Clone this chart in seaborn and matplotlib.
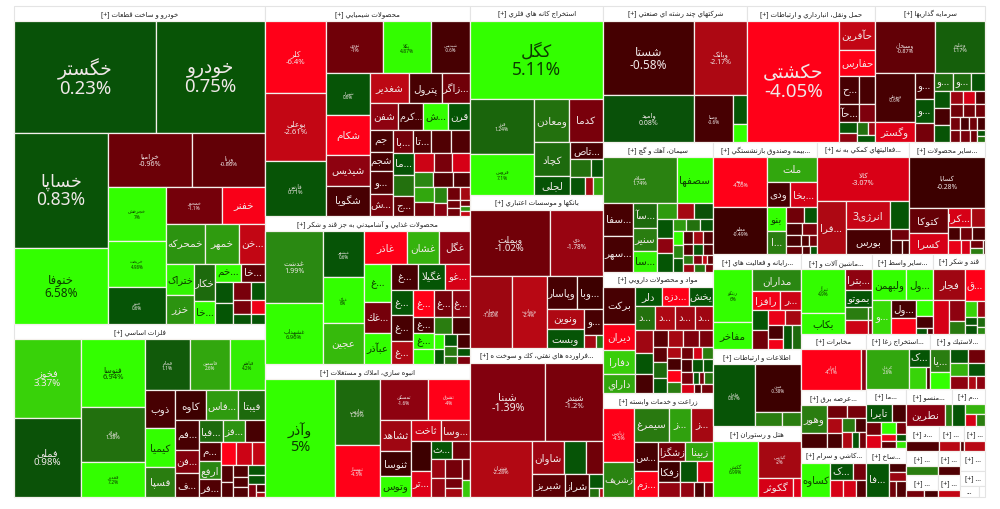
import matplotlib
matplotlib.use("Agg")
import matplotlib.pyplot as plt
import pandas as pd
import seaborn as sns

# Tiles are (market cap, percent change, ticker); splits are ['h' | 'v', children...].
auto_tiles = ['v',
    ['h', (15400, 0.23, 'خگستر'), (11880, 0.75, 'خودرو')],
    ['h',
        ['v', (10465, 0.83, 'خساپا'), (6916, 6.58, 'خنوفا')],
        ['v',
            ['h', (4420, -0.96, 'خرامیا'), (3800, -0.86, 'ورنا')],
            ['h',
                ['v', (3070, 7.0, 'خچرخش'), (2620, 4.98, 'خریخت'), (2120, 0.6, 'ختور')],
                ['v',
                    ['h', (2060, -1.1, 'خمحور'), (1560, -3.8, 'خفنر')],
                    ['h', (1482, 2.2, 'خمحرکه'), (1330, 2.4, 'خمهر'), (1000, -2.6, 'خن...')],
                    ['h',
                        ['v', (837, 4.5, 'ختراک'), (783, 2.2, 'خزر')],
                        ['v', (770, 1.3, 'خکار'), (483, 5.0, 'خا...')],
                        ['v',
                            ['h', (460, 5.0, 'خم...'), (414, -0.8, 'خا...')],
                            ['h',
                                ['v', (378, 0.4, None), (360, 0.5, None)],
                                ['v', (306, -1.2, None), (238, -1.2, None), (170, 0.6, None)],
                                ['v', (252, 0.5, None), (210, -3.5, None), (135, 0.6, None)]]]]]]]]]

metal_tiles = ['h',
    ['v', (5070, 3.37, 'فخوز'), (5070, 0.98, 'فملی')],
    ['v', (4200, 6.94, 'فنوسا'), (3400, 1.38, 'فولاد'), (2200, 7.2, 'فغدیر')],
    ['v',
        ['h', (2200, 1.1, 'فجام'), (1960, 2.6, 'فاسمین'), (1750, 4.2, 'فباهنر')],
        ['h',
            ['v', (1100, -0.6, 'ذوب'), (1100, 5.5, 'کیمیا'), (870, 1.6, 'فسپا')],
            ['v',
                ['h', (900, -0.5, 'کاوه'), (920, 2.4, 'فاس...'), (780, 1.3, 'فیبتا')],
                ['h',
                    ['v', (690, -0.6, 'فم...'), (550, -1.4, 'فن...'), (550, -0.7, 'ف...')],
                    ['v',
                        ['h', (500, 1.3, 'فبا...'), (480, 2.2, 'فز...'), (420, -0.6, None)],
                        ['h',
                            ['v', (380, -0.7, 'م...'), (380, 1.9, 'ارفع'), (360, -0.7, 'فر...')],
                            ['v',
                                ['h', (330, -4.5, None), (330, -2.8, None), (290, -2.6, None)],
                                ['h',
                                    ['v', (204, -0.7, None), (180, -0.7, None)],
                                    ['v', (180, -0.7, None), (150, -0.7, None), (150, -0.7, None)],
                                    ['v', (170, 0.4, None), (136, 0.4, None),
                                        ['h', (100, -1.3, None),
                                            ['v', (70, -0.6, None), (45, -2.0, None)]]]]]]]]]]]]

chem_fine = ['v',
    ['h', (380, -2.8, None), (340, -1.2, None), (340, -3.0, None)],
    ['h', (280, 1.9, None), (280, -0.7, None), (252, -0.7, None)],
    ['h',
        ['v', (285, 2.6, None), (266, -1.0, None)],
        ['v', (210, 1.8, None), (170, -1.5, None)],
        ['v', (156, -1.0, None), (100, -1.0, None), (100, -1.0, None)],
        ['v', (120, -2.0, None), (60, -1.0, None), (45, 2.2, None), (50, -2.6, None)]]]

chem_small = ['h',
    ['v', (504, -0.6, 'جم'), (437, -0.6, 'شجم'), (500, -0.7, 'و...'), (506, -1.1, 'ش...')],
    ['v',
        ['h', (440, -1.1, 'با...'), (420, -0.7, 'تا...'), (440, -0.7, None), (440, -0.7, None)],
        ['h',
            ['v', (440, 0.6, 'ما...'), (420, 1.4, None), (400, -0.8, 'ج...')],
            chem_fine]]]

chem_tiles = ['h',
    ['v', (4260, -6.4, 'کلر'), (4020, -2.61, 'بوعلی'), (3240, 0.71, 'فارس')],
    ['v',
        ['h', (2850, -1.0, 'نوری'), (2400, 4.87, 'پکلا'), (2000, -0.6, 'شپدیس')],
        ['h',
            ['v', (1722, 0.6, 'شیراز'), (1680, -4.2, 'شکام'), (1260, -1.6, 'شیدیس'), (1260, -0.6, 'شگویا')],
            ['v',
                ['h', (1110, -2.5, 'شغدیر'), (950, -0.6, 'پترول'), (810, -1.0, 'زاگر...')],
                ['h', (730, -1.6, 'شفن'), (650, -0.6, 'کرم...'), (625, 6.0, 'ش...'), (575, 0.5, 'قرن')],
                chem_small]]]]

food_fine = ['v',
    ['h', (304, 1.6, None), (304, -0.6, None)],
    ['h',
        ['v', (150, 6.0, None), (150, 0.5, None)],
        ['v', (156, 0.5, None), (132, 1.5, None), (96, 1.4, None)],
        ['v', (168, -0.6, None), (108, 0.5, None), (96, -1.3, None)]]]

food_tiles = ['h',
    ['v', (3990, 1.99, 'غدشت'), (3420, 6.96, 'غشهداب')],
    ['v', (1800, 0.6, 'غبشهر'), (1800, 6.0, 'غپاک'), (1600, 2.9, 'عجین')],
    ['v',
        ['h', (1376, -4.2, 'غاذر'), (992, 2.8, 'غشان'), (992, -1.6, 'غگل')],
        ['h',
            ['v', (1000, 5.2, 'غ...'), (810, -1.1, 'غك...'), (810, 5.6, 'عبآذر')],
            ['v',
                ['h', (675, -0.6, 'غ...'), (700, 0.5, 'غگیلا'), (625, -3.0, 'غو...')],
                ['h',
                    ['v', (550, 0.5, 'غ...'), (550, -0.6, 'غ...'), (500, -2.2, 'غ...')],
                    ['v',
                        ['h', (550, -4.2, 'غ...'), (450, -1.1, 'غ...'), (475, -1.6, 'غ...')],
                        ['h',
                            ['v', (320, -0.6, 'غ...'), (320, 6.0, 'غ...'), (300, 6.0, None)],
                            food_fine]]]]]]]

build_tiles = ['h',
    (8050, 5.0, 'وآذر'),
    ['v', (2925, 1.29, 'ثفارس'), (2300, -4.5, 'ثبهساز')],
    ['v',
        ['h', (1968, -1.6, 'ثمسکن'), (1722, -4.0, 'ثشرق')],
        ['h',
            ['v', (930, -1.9, 'ثشاهد'), (775, -0.5, 'ثنوسا'), (650, 6.0, 'وتوس')],
            ['v',
                ['h', (600, -2.8, 'ثاخت'), (580, -2.0, 'وسا...')],
                ['h',
                    ['v', (580, -0.5, None), (500, -3.2, 'تر...')],
                    ['v',
                        ['h', (396, 0.5, 'ث...'), (324, -1.0, None)],
                        ['h',
                            ['v', (270, -1.8, None), (270, -1.8, None)],
                            ['v', (306, -1.1, None), (153, -1.1, None), (153, -2.0, None)],
                            ['v', (180, -1.1, None), (140, 3.2, None)]]]]]]]]

mine_tiles = ['v',
    (9975, 5.11, 'کگل'),
    ['h',
        ['v', (3416, 1.24, 'فرز'), (2500, 7.1, 'فروس')],
        ['v',
            ['h', (1470, 1.4, 'ومعادن'), (1470, -1.2, 'کدما')],
            ['h',
                ['v', (1184, 1.3, 'کچاد'), (666, 0.6, 'لجلی')],
                ['v',
                    (528, -0.6, 'تاص...'),
                    ['h', (361, 1.4, None), (228, 0.6, None)],
                    ['h', (255, 0.6, None), (136, -2.0, None), (170, 2.6, None)]]]]]]

bank_tiles = ['v',
    ['h', (5070, -1.02, 'وبملت'), (3445, -1.78, 'دی')],
    ['h', (2880, -1.86, 'وبصادر'), (2450, -2.4, 'وتجارت'),
        ['v',
            ['h', (957, -0.6, 'وپاسار'), (858, -0.5, 'وبا...')],
            ['h',
                ['v', (703, -2.2, 'ونوین'), (703, 0.6, 'وبست')],
                ['v', (475, -0.6, 'و...'),
                    ['h', (154, -2.0, None), (91, 1.4, None)]]]]]]

petro_tiles = ['v',
    ['h', (5700, -1.39, 'شبنا'), (4400, -1.2, 'شبندر')],
    ['h', (3300, -2.28, 'شتران'),
        ['v',
            ['h', (1024, -1.9, 'شاوان'), (704, 0.6, None), (544, -1.0, None)],
            ['h', (736, -0.8, 'شبریز'), (552, -0.6, 'شراز'),
                ['v', (192, 0.5, None),
                    ['h', (80, 1.4, None), (40, -2.2, None)]]]]]]

multi_tiles = ['v',
    ['h', (6570, -0.58, 'شستا'), (3869, -2.17, 'وبانک')],
    ['h', (4230, 0.08, 'وامید'), (1786, -0.6, 'وصنا'),
        ['v', (420, 0.5, None), (252, 5.5, None)]]]

transport_tiles = ['h',
    (10800, -4.05, 'حکشتی'),
    ['v', (1000, -2.6, 'حآفرین'), (888, -4.0, 'حفارس'),
        ['h', (540, -0.6, 'ح...'), (432, -0.6, None)],
        ['h', (360, -0.6, 'حآ...'), (288, -1.3, None)],
        ['h',
            ['v', (176, 0.6, None), (160, -1.6, None)],
            ['v', ['h', (126, 1.4, None), (90, -1.9, None)], (133, 0.5, None)]]]]

invest_tiles = ['v',
    ['h', (2900, -0.87, 'وسبحان'), (2450, 1.17, 'وخلیج')],
    ['h',
        ['v', (1824, -0.6, 'وبوعلی'), (760, -3.2, 'وگستر')],
        ['v', (475, -0.6, 'و...'), (440, 0.7, 'و...'), (360, -1.1, None)],
        ['v',
            ['h', (323, 1.3, 'و...'), (306, 1.3, 'و...'), (238, 0.6, None)],
            ['h',
                ['v', (255, 0.7, None), (240, -0.6, None), (255, 0.7, None)],
                ['v',
                    ['h', (170, -1.8, None), (156, -3.0, None), (130, -0.7, None)],
                    ['h', (156, -1.0, None), (144, -1.0, None), (120, -1.0, None)],
                    ['h', (120, -1.1, None), (108, -0.6, None), (96, -1.0, None), (96, -0.6, None)],
                    ['h', (120, -1.1, None), (120, -1.2, None), (84, -1.0, None),
                        ['v', (50, 0.7, None), (46, 1.4, None)]]]]]]]

cement_tiles = ['v',
    ['h', (3240, 1.74, 'سیلام'), (1620, 6.0, 'سصفها')],
    ['h',
        ['v', (957, -0.6, 'سفا...'), (1015, -0.6, 'سهر...')],
        ['v', (600, 1.3, 'سآ...'), (552, 1.6, 'سنیر'), (480, 4.5, 'سا...')],
        ['v',
            ['h', (320, 2.4, None), (272, -2.0, None), (306, 1.0, None)],
            ['h',
                ['v', (270, 0.5, None), (225, -1.6, None), (270, 0.5, None)],
                ['v',
                    ['h', (154, 2.4, None), (154, 1.4, None), (154, 0.6, None)],
                    ['h',
                        ['v', (130, 5.0, None), (130, 1.9, None), (130, 0.6, None)],
                        ['v',
                            ['h', (130, -0.7, None), (130, -2.0, None), (130, -0.7, None)],
                            ['h', (110, -0.7, None), (110, 0.7, None), (110, -0.7, None)],
                            ['h', (90, 1.5, None), (72, -1.4, None), (45, -2.6, None), (54, -0.8, None)],
                            ['h', (80, -1.8, None), (80, 1.4, None), (60, -1.2, None)]]]]]]]]

pharma_tiles = ['h',
    ['v', (1080, -0.6, 'برکت'), (750, -4.3, 'دیران'), (690, 3.3, 'دفارا'), (540, 2.6, 'داراي')],
    ['v',
        ['h', (468, 0.5, 'دلر'), (468, -4.2, 'دزه...'), (432, 0.6, 'یخش')],
        ['h', (440, 1.4, 'د...'), (440, -2.2, 'د...'), (440, -1.9, 'د...'), (396, -1.9, 'د...')],
        ['h',
            ['v', (368, -1.9, None), (336, 0.5, None), (304, -0.6, None)],
            ['v',
                ['h', (225, -0.8, None), (225, -2.0, None), (240, -1.3, None), (210, -1.2, None)],
                ['h',
                    ['v', (195, -0.8, None), (195, 1.3, None), (182, 0.6, None)],
                    ['v', (154, -2.2, None), (154, -0.6, None), (154, -4.0, None), (140, 1.6, None)],
                    ['v',
                        ['h', (132, -1.0, None), (108, -3.0, None), (120, 1.6, None)],
                        ['h', (132, -0.6, None), (120, 0.5, None), (120, 0.5, None)],
                        ['h', (132, -1.2, None), (60, 0.5, None), (60, -1.2, None), (100, 1.4, None)],
                        ['h', (108, -3.0, None), (60, -0.7, None), (100, -1.1, None)]]]]]]]

agri_tiles = ['h',
    ['v', (1590, -4.5, 'زپارس'), (1050, 1.8, 'زشریف')],
    ['v',
        ['h', (1122, 1.5, 'سیمرغ'), (748, 2.5, 'ز...'), (714, -2.0, 'ز...')],
        ['h',
            ['v', (644, -0.6, 'س...'), (575, -4.0, 'زم...')],
            ['v',
                ['h', (486, -1.0, 'زشگزا'), (486, 2.6, 'زبینا')],
                ['h', (462, -0.5, 'زفکا'), (336, 0.6, None), (336, -3.2, None)],
                ['h', (315, -1.7, None), (210, -1.7, None), (135, -0.6, None), (135, -1.1, None)]]]]]

insure_tiles = ['h',
    ['v', (2544, -4.05, 'بیمه'), (2438, -0.49, 'معلم')],
    ['v',
        (1176, 2.6, 'ملت'),
        ['h', (525, -0.6, 'ودی'), (650, -3.0, 'بخا...')],
        ['h',
            ['v', (414, 5.0, 'بنو'), (396, 1.6, 'ا...')],
            ['v',
                ['h', (270, -1.0, None), (195, 0.5, None)],
                ['h', (192, -0.6, None), (180, -1.2, None)],
                ['h', (160, -0.6, None), (80, -0.7, None), (80, -1.0, None)],
                ['h', (128, -0.9, None), (64, -0.7, None), (56, 0.6, None)]]]]]

support_tiles = ['v',
    (3822, -3.07, 'کالا'),
    ['h', (1458, -2.2, 'فرا...'),
        ['v',
            ['h', (1204, -2.7, 'انرژی3'), (532, 0.5, None)],
            ['h', (1075, -0.6, 'بورس'),
                ['v', (190, -1.0, None),
                    ['h', (156, -0.6, None), (90, -0.6, None)]]]]]]

other_tiles = ['v',
    (3700, -0.28, 'کسابا'),
    ['h',
        ['v', (925, -0.9, 'کتوکا'), (777, -3.0, 'کسرا')],
        ['v',
            ['h', (432, -3.0, 'کرا...'), (252, -2.0, None)],
            ['h', (156, -0.6, None), (144, -1.0, None), (156, -0.6, None)],
            ['h', (182, -3.4, None), (126, -3.0, None),
                ['v', (96, -1.0, None), (84, 1.6, None)], (30, -0.5, None)]]]]

computing_tiles = ['h',
    ['v', (1950, 6.0, 'ریتکو'), (1014, 5.6, 'مفاخر')],
    ['v',
        (1000, 1.9, 'مداران'),
        ['h', (510, -3.6, 'رافزا'), (400, -2.8, 'ر...')],
        ['h',
            ['v', (285, 0.5, None), (285, -1.0, None)],
            ['v',
                ['h', (240, -3.4, None), (240, -2.0, None)],
                ['h',
                    ['v', (195, -0.6, None), (150, -3.6, None)],
                    (207, 0.5, None), (207, 1.3, None)]]]]]

ict_tiles = ['h', (2400, 0.67, 'ماهان'),
    ['v', (2115, -0.38, 'مبین'),
        ['h', (350, 1.6, None), (250, 1.6, None)]]]

hotel_tiles = ['h', (2400, 6.99, 'گکیش'),
    ['v', (1517, -2.0, 'گپارس'),
        ['h', (646, -3.0, 'گکوثر'), (152, -3.2, None)]]]

machine_tiles = ['h',
    ['v', (1806, 4.9, 'تیرآژ'), (860, 5.5, 'بکاب')],
    ['v',
        (540, -1.6, 'بترا...'),
        (432, 0.5, 'بموتو'),
        ['h', (286, 1.6, None), (50, 1.6, None)],
        ['h', (286, -2.8, None), (50, -1.4, None)]]]

wasta_tiles = ['v',
    ['h', (990, 5.5, 'ولبهمن'), (780, 5.6, 'ول...')],
    ['h',
        (594, 3.6, 'و...'),
        ['v', (425, -0.6, 'ول...'), (375, -4.2, None)],
        ['v', (255, 6.0, None), (180, -0.6, None),
            ['h', (60, 0.6, None), (36, -0.7, None)]]]]

sugar_tiles = ['h',
    ['v', (900, -1.9, 'فجار'),
        ['h', (480, -3.0, None),
            ['v', (320, -1.6, None), (192, 1.5, None)]]],
    ['v', (570, -4.2, 'ق...'),
        ['h',
            ['v', (165, 3.4, None), (88, 0.5, None), (88, 0.6, None)],
            ['v', (128, -1.8, None), (80, 1.3, None), (48, 2.0, None)]]]]

telecom_tiles = ['h', (2300, -4.1, 'اخابر'), (200, -1.5, None)]

coal_tiles = ['h', (1560, 2.6, 'کزغال'),
    ['v', (357, 0.5, 'ک...'),
        ['h', (336, 3.4, None), (84, -0.6, None)]]]

rubber_tiles = ['h',
    ['v', (440, 1.6, 'یا...'), (300, 5.6, None)],
    ['v',
        ['h', (252, 0.6, None), (238, -1.0, None)],
        ['h', (216, 2.8, None), (204, 0.6, None)],
        ['h', (216, -1.6, None), (96, -2.2, None), (108, -1.6, None)]]]

power_tiles = ['h',
    ['v', (650, 1.6, 'وهور'), (325, -0.6, None)],
    ['v',
        ['h', (220, -1.0, None), (220, -1.1, None)],
        ['h',
            ['v', (200, -2.2, None), (200, -0.6, None)],
            ['v',
                ['h', (156, 1.5, None), (132, -0.6, None)],
                ['h', (130, -2.2, None), (110, 0.6, None), (100, -1.0, None)]]]]]

ceramic_tiles = ['h', (945, 5.6, 'کساوه'),
    ['v',
        ['h', (374, 0.6, 'ک...'), (221, -1.1, None)],
        ['h', (204, -3.0, None), (204, -3.0, None), (170, -0.7, None)]]]

tyre_tiles = ['v',
    ['h', (450, 0.6, 'تایرا'), (252, -0.6, None)],
    ['h',
        ['v', (195, -1.0, None), (195, -3.2, None)],
        ['v', (182, 6.0, None), (98, -3.4, None), (98, -0.8, None)],
        ['v', (130, -1.1, None), (70, 0.5, None), (70, 4.0, None)]]]

watch_tiles = ['h', (735, 0.5, 'فا...'),
    ['v', (153, -0.6, None), (153, -1.8, None),
        ['h', (120, -1.0, None), (150, -0.7, None)]]]

textile_tiles = ['h', (836, -1.5, 'نطرین'), (154, 1.6, None)]

small_m_tiles = ['h', (264, 0.6, None),
    ['v', (200, 2.8, None),
        ['h', (120, -3.0, None), (100, 1.6, None)]]]

# Sectors: (header text, sector cap, tile tree).
sector_auto = ('خودرو و ساخت قطعات', 79818, auto_tiles)
sector_metal = ('فلزات اساسي', 43423, metal_tiles)
sector_chem = ('محصولات شيميايي', 43050, chem_tiles)
sector_food = ('محصولات غذايي و آشاميدني به جز قند و شكر', 30340, food_tiles)
sector_build = ('انبوه سازي، املاك و مستغلات', 27265, build_tiles)
sector_mine = ('استخراج كانه هاي فلزي', 25137, mine_tiles)
sector_bank = ('بانکها و موسسات اعتباري', 20349, bank_tiles)
sector_petro = ('فراورده هاي نفتي، كك و سوخت ه...', 19817, petro_tiles)
sector_multi = ('شرکتهاي چند رشته اي صنعتي', 19584, multi_tiles)
sector_transport = ('حمل ونقل، انبارداري و ارتباطات', 17408, transport_tiles)
sector_invest = ('سرمايه گذاريها', 14960, invest_tiles)
sector_cement = ('سيمان، آهك و گچ', 14190, cement_tiles)
sector_pharma = ('مواد و محصولات دارويي', 13310, pharma_tiles)
sector_agri = ('زراعت و خدمات وابسته', 11440, agri_tiles)
sector_insure = ('بيمه وصندوق بازنشستگي...', 11648, insure_tiles)
sector_support = ('فعاليتهاي كمكي به نه...', 10304, support_tiles)
sector_other = ('ساير محصولات...', 8512, other_tiles)
sector_computing = ('رايانه و فعاليت هاي...', 8360, computing_tiles)
sector_ict = ('اطلاعات و ارتباطات', 6776, ict_tiles)
sector_hotel = ('هتل و رستوران', 6248, hotel_tiles)
sector_machine = ('ماشين آلات و...', 5609, machine_tiles)
sector_wasta = ('ساير واسط...', 4819, wasta_tiles)
sector_sugar = ('قند و شكر', 4108, sugar_tiles)
sector_telecom = ('مخابرات', 3640, telecom_tiles)
sector_power = ('عرضه برق...', 3770, power_tiles)
sector_ceramic = ('كاشي و سرام...', 3185, ceramic_tiles)
sector_coal = ('استخراج زغا...', 3520, coal_tiles)
sector_rubber = ('لاستيك و...', 3025, rubber_tiles)
sector_tyre = ('ما...', 2360, tyre_tiles)
sector_watch = ('ساخ...', 1960, watch_tiles)
sector_textile = ('منسو...', 1702, textile_tiles)
sector_small_m = ('م...', 1221, small_m_tiles)
minor_a = ('د...', 825, (320, -0.7, None))
minor_b = ('...', 650, ['h', (200, -2.4, None), (40, -0.7, None)])
minor_c = ('...', 525, (200, -2.4, None))
minor_d = ('...', 768, (220, 1.6, None))
minor_e = ('...', 704, ['h', (120, -1.1, None), (100, -0.6, None)])
minor_f = ('...', 528, (130, -0.7, None))
minor_g = ('...', 484, (140, -2.6, None))
minor_h = ('...', 475, None)
minor_i = ('...', 375, None)
minor_j = ('...', 209, None)
minor_k = ('', 66, None)

group_minor = ['v',
    ['h', minor_a, minor_b, minor_c],
    ['h',
        ['v', minor_d, minor_e],
        ['v', minor_f, minor_g],
        ['v', minor_h, minor_i, ['h', minor_j, minor_k]]]]

group_corner = ['v',
    ['h', sector_coal, sector_rubber],
    ['h',
        ['v', sector_tyre, sector_watch],
        ['v', ['h', sector_textile, sector_small_m], group_minor]]]

group_lower_right = ['h',
    ['v', sector_computing, sector_ict, sector_hotel],
    ['v',
        ['h', sector_machine, sector_wasta, sector_sugar],
        ['h', ['v', sector_telecom, sector_power, sector_ceramic], group_corner]]]

group_right = ['v',
    ['h', sector_multi, sector_transport, sector_invest],
    ['h',
        ['v', sector_cement, sector_pharma, sector_agri],
        ['v', ['h', sector_insure, sector_support, sector_other], group_lower_right]]]

market = ['h',
    ['v', sector_auto, sector_metal],
    ['v', sector_chem, sector_food, sector_build],
    ['v', sector_mine, sector_bank, sector_petro],
    group_right]

# Tickers printed with their percent change, and the point size used for them.
percent_label_pt = {
    'خگستر': 13.4, 'خودرو': 13.4, 'خساپا': 12.5, 'خنوفا': 8.5, 'خرامیا': 5.2, 'ورنا': 4.2,
    'خچرخش': 3.5, 'خریخت': 3.2, 'ختور': 3.2, 'خمحور': 3.5,
    'فخوز': 7, 'فملی': 7, 'فنوسا': 5.5, 'فولاد': 3.8, 'فغدیر': 3.6, 'فجام': 3.5, 'فاسمین': 3.3, 'فباهنر': 3.3,
    'کلر': 5.5, 'بوعلی': 5.5, 'فارس': 4, 'نوری': 3.6, 'پکلا': 3.6, 'شپدیس': 3.2, 'شیراز': 3.2,
    'غدشت': 5.2, 'غشهداب': 4.2, 'غبشهر': 3.2, 'غپاک': 3.2,
    'وآذر': 10.4, 'ثفارس': 3.8, 'ثبهساز': 3.4, 'ثمسکن': 3.4, 'ثشرق': 3.4,
    'کگل': 12.5, 'فرز': 3.6, 'فروس': 3.6,
    'وبملت': 6.8, 'دی': 4.6, 'وبصادر': 3.6, 'وتجارت': 3.4,
    'شبنا': 7.7, 'شبندر': 5.5, 'شتران': 3.8,
    'شستا': 8.5, 'وبانک': 5, 'وامید': 5, 'وصنا': 3.4,
    'حکشتی': 13.5, 'وسبحان': 4, 'وخلیج': 3.8, 'وبوعلی': 3.2,
    'سیلام': 3.8, 'زپارس': 3.5, 'بیمه': 3.6, 'معلم': 3.6, 'کالا': 5.2, 'کسابا': 4.8,
    'ریتکو': 3.4, 'ماهان': 3.2, 'مبین': 3.2, 'گکیش': 3.4, 'گپارس': 3.2, 'تیرآژ': 3.4,
    'اخابر': 3.6, 'کزغال': 3.2,
}

DUAL = {'ب': 0xFE8F, 'ت': 0xFE95, 'ث': 0xFE99, 'ج': 0xFE9D, 'ح': 0xFEA1, 'خ': 0xFEA5,
        'س': 0xFEB1, 'ش': 0xFEB5, 'ص': 0xFEB9, 'ض': 0xFEBD, 'ط': 0xFEC1, 'ظ': 0xFEC5,
        'ع': 0xFEC9, 'غ': 0xFECD, 'ف': 0xFED1, 'ق': 0xFED5, 'ك': 0xFED9, 'ل': 0xFEDD,
        'م': 0xFEE1, 'ن': 0xFEE5, 'ه': 0xFEE9, 'ي': 0xFEF1, 'ئ': 0xFE89,
        'پ': 0xFB56, 'چ': 0xFB7A, 'ک': 0xFB8E, 'گ': 0xFB92, 'ی': 0xFBFC}
RIGHT = {'ا': 0xFE8D, 'آ': 0xFE81, 'أ': 0xFE83, 'د': 0xFEA9, 'ذ': 0xFEAB, 'ر': 0xFEAD,
         'ز': 0xFEAF, 'ژ': 0xFB8A, 'و': 0xFEED}
LAM_ALEF = {'ا': 0xFEFB, 'آ': 0xFEF5}


def shape(word):
    """Join Arabic letters into presentation forms, since matplotlib does no shaping."""
    out = []
    i = 0
    joined = False
    while i < len(word):
        ch = word[i]
        nxt = word[i + 1] if i + 1 < len(word) else ''
        if ch == 'ل' and nxt in LAM_ALEF:
            out.append(chr(LAM_ALEF[nxt] + (1 if joined else 0)))
            joined = False
            i += 2
            continue
        if ch in DUAL:
            forward = nxt in DUAL or nxt in RIGHT
            offset = (3 if forward else 1) if joined else (2 if forward else 0)
            out.append(chr(DUAL[ch] + offset))
            joined = forward
        elif ch in RIGHT:
            out.append(chr(RIGHT[ch] + (1 if joined else 0)))
            joined = False
        else:
            out.append(ch)
            joined = False
        i += 1
    return ''.join(out)


def visual(text):
    """Left-to-right glyph order for a right-to-left string; an ellipsis stays on the right."""
    tail = ''
    if text.endswith('...'):
        text, tail = text[:-3], '...'
    return shape(text)[::-1] + tail


def weight(node):
    if isinstance(node, list):
        return sum(weight(child) for child in node[1:])
    return node[1] if isinstance(node[0], str) else node[0]


def split(node, x, y, w, h):
    """Yield each child of a split node with the box its weight earns it."""
    total = weight(node)
    for child in node[1:]:
        share = weight(child) / total
        if node[0] == 'h':
            yield child, x, y, w * share, h
            x += w * share
        else:
            yield child, x, y, w, h * share
            y += h * share


tiles, headers = [], []


def place_tiles(node, x, y, w, h):
    if isinstance(node, list):
        for child, *box in split(node, x, y, w, h):
            place_tiles(child, *box)
    else:
        tiles.append(dict(x=x, y=y, w=w, h=h, pct=node[1], name=node[2]))


def place_sectors(node, x, y, w, h):
    if isinstance(node, list):
        for child, *box in split(node, x, y, w, h):
            place_sectors(child, *box)
        return
    title, _, tree = node
    bar = min(15, h)
    headers.append(dict(x=x, y=y, w=w, h=h, bar=bar, title=title))
    if tree is not None and h > bar:
        place_tiles(tree, x, y + bar, w, h - bar)


place_sectors(market, 14, 7, 971, 491)
tile_df = pd.DataFrame(tiles)
header_df = pd.DataFrame(headers)

sns.set_theme(style='white')
plt.rcParams['font.family'] = ['Noto Sans', 'DejaVu Sans']

# Colour ramps run in half-point steps of absolute change.
reds = sns.blend_palette(['#3a0000', '#3d0000', '#700008', '#880010', '#a50812',
                          '#bd0814', '#d50016', '#ee0018', '#ff0018'], as_cmap=True)
greens = sns.blend_palette(['#0a500a', '#055505', '#0b5208', '#2a7a10', '#2a8a12', '#30a00e',
                            '#38c00c', '#38d808', '#33e804', '#33f502', '#33ff00'], as_cmap=True)


def tile_colour(pct):
    return reds(min(-pct, 4) / 4) if pct < 0 else greens(min(pct, 5) / 5)


tile_df['colour'] = tile_df['pct'].map(tile_colour)

fig = plt.figure(figsize=(10, 5.1), dpi=100, facecolor='white')
ax = fig.add_axes([0, 0, 1, 1])
ax.set_xlim(0, 1000)
ax.set_ylim(510, 0)
ax.axis('off')

ax.bar(header_df['x'], header_df['h'], width=header_df['w'], bottom=header_df['y'], align='edge',
       color='white', edgecolor='#e4e4e4', linewidth=0.8, zorder=1)
ax.bar(tile_df['x'], tile_df['h'], width=tile_df['w'], bottom=tile_df['y'], align='edge',
       color=tile_df['colour'].tolist(), edgecolor='#f4f0ec', linewidth=0.9, zorder=2)

renderer = fig.canvas.get_renderer()

for row in header_df.itertuples():
    if not row.title:
        continue
    label = ('[+] ' + visual(row.title)) if row.h >= 14 else visual(row.title)
    ax.text(row.x + row.w / 2, row.y + row.bar / 2, label, ha='center', va='center',
            fontsize=5.0, color='#222222', zorder=3)

for row in tile_df.itertuples():
    if row.name is None:
        continue
    ink = '#0c3c00' if row.pct >= 4 else '#f0e8e8'
    if row.name in percent_label_pt:
        text = f'{visual(row.name)}\n{row.pct:g}%'
        ax.text(row.x + row.w / 2, row.y + row.h / 2, text, ha='center', va='center',
                fontsize=percent_label_pt[row.name], color=ink, linespacing=1.0, zorder=3)
    else:
        item = ax.text(row.x + row.w / 2, row.y + row.h / 2, visual(row.name), ha='center',
                       va='center', fontsize=7.5, color=ink, zorder=3)
        width = item.get_window_extent(renderer).width
        if width > row.w - 2:
            item.set_fontsize(7.5 * (row.w - 2) / width)

fig.savefig('out.png', dpi=100, facecolor='white')
